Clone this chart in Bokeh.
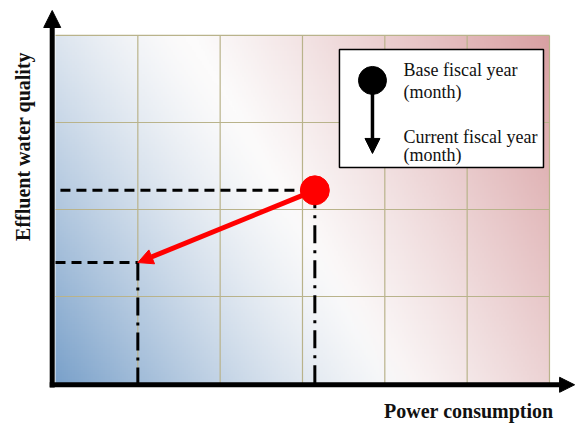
import numpy as np
from math import pi
from bokeh.plotting import figure
from bokeh.models import Range1d, Arrow, NormalHead, Label
from bokeh.embed import file_html
from bokeh.resources import INLINE

# ---- data (grid units: 6 columns of power consumption, 4 rows of effluent quality)
point_names = ["Base fiscal year (month)", "Current fiscal year (month)"]
power = [3.15, 1.0]        # x of base / current
quality = [2.22, 1.39]     # y of base / current

grid_x = [1, 2, 3, 4, 5, 6]
grid_y = [1, 2, 3, 4]
x_max = 6
y_max = 4

legend_labels = ["Base fiscal year", "(month)", "Current fiscal year", "(month)"]
x_label = "Power consumption"
y_label = "Effluent water quality"

# ---- figure
W, H = 575, 423
p = figure(width=W, height=H,
           x_range=Range1d(-0.668, 6.316), y_range=Range1d(-0.460, 4.402),
           output_backend="svg", toolbar_location=None,
           x_axis_location=None, y_axis_location=None, min_border=0)
p.outline_line_color = None
p.background_fill_color = "white"
p.border_fill_color = "white"
for g in p.grid:
    g.visible = False

# ---- gradient background (style only)
ny, nx = 160, 240
gx, gy = np.meshgrid(np.linspace(0, 1, nx), np.linspace(0, 1, ny))
c_blue = np.array([122, 161, 202], dtype=float)
c_white = np.array([252, 251, 251], dtype=float)
c_pink = np.array([210, 143, 146], dtype=float)
tb = np.clip(1 - 1.36 * gx - 0.65 * gy, 0, 1) ** 1.35
tp = np.clip((gx - 0.66) * 1.2 + gy * 0.45, 0, 1) ** 1.1
rgb = c_white + (c_blue - c_white) * tb[..., None] + (c_pink - c_white) * tp[..., None]
rgb = np.clip(rgb, 0, 255)
img = np.empty((ny, nx), dtype=np.uint32)
view = img.view(dtype=np.uint8).reshape((ny, nx, 4))
view[..., 0] = rgb[..., 0].astype(np.uint8)
view[..., 1] = rgb[..., 1].astype(np.uint8)
view[..., 2] = rgb[..., 2].astype(np.uint8)
view[..., 3] = 255
p.image_rgba(image=[img], x=0, y=0, dw=x_max, dh=y_max, level="image")

# ---- grid
grid_color = "#b9b38b"
p.segment(x0=grid_x, y0=[0] * len(grid_x), x1=grid_x, y1=[y_max] * len(grid_x),
          line_color=grid_color, line_width=1.2)
p.segment(x0=[0] * len(grid_y), y0=grid_y, x1=[x_max] * len(grid_y), y1=grid_y,
          line_color=grid_color, line_width=1.2)

# ---- guide lines
p.segment(x0=[0.06, 0.0], y0=quality, x1=power, y1=quality,
          line_color="black", line_width=3, line_dash="10 6")
p.segment(x0=power, y0=quality, x1=power, y1=[0, 0],
          line_color="black", line_width=3, line_dash="18 7 3 7")

# ---- base point and move arrow
p.scatter(x=[power[0]], y=[quality[0]], size=29, color="#ff0000")
p.add_layout(Arrow(x_start=power[0], y_start=quality[0], x_end=power[1], y_end=quality[1],
                   line_color="#ff0000", line_width=5,
                   end=NormalHead(size=15, fill_color="#ff0000", line_color="#ff0000")))

# ---- legend box
p.quad(left=[3.449], right=[5.927], bottom=[2.483], top=[3.839],
       fill_color="white", line_color="black", line_width=1.5)
p.scatter(x=[3.850], y=[3.483], size=28, color="black")
p.add_layout(Arrow(x_start=3.850, y_start=3.40, x_end=3.850, y_end=2.644,
                   line_color="black", line_width=3.5,
                   end=NormalHead(size=15, fill_color="black", line_color="black")))
for txt, yy in zip(legend_labels, [3.605, 3.352, 2.835, 2.628]):
    p.add_layout(Label(x=4.227, y=yy, text=txt, text_font="Liberation Serif",
                       text_font_size="18px", text_color="#111111",
                       text_baseline="alphabetic", text_align="left"))

# ---- axes as arrows
p.add_layout(Arrow(x_start=-0.07, y_start=-0.015, x_end=6.305, y_end=-0.015,
                   line_color="black", line_width=5,
                   end=NormalHead(size=15, fill_color="black", line_color="black")))
p.add_layout(Arrow(x_start=-0.04, y_start=-0.045, x_end=-0.04, y_end=4.287,
                   line_color="black", line_width=5,
                   end=NormalHead(size=17, fill_color="black", line_color="black")))

p.add_layout(Label(x=6.049, y=-0.322, text=x_label, text_font="Liberation Serif",
                   text_font_style="bold", text_font_size="20px", text_color="#111111",
                   text_align="right", text_baseline="alphabetic"))
p.add_layout(Label(x=-0.398, y=2.724, text=y_label, angle=pi / 2,
                   text_font="Liberation Serif", text_font_style="bold",
                   text_font_size="20px", text_color="#111111",
                   text_align="center", text_baseline="alphabetic"))

open("out.html", "w").write(file_html(p, INLINE))
